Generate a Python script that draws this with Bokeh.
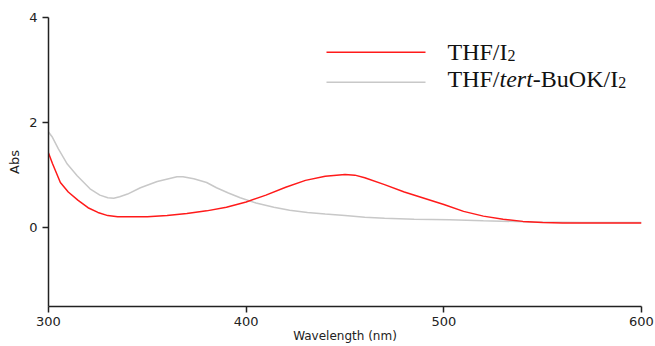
from bokeh.plotting import figure
from bokeh.models import Range1d, Label, BoxAnnotation, FixedTicker
from bokeh.embed import file_html
from bokeh.resources import INLINE

# Wavelength (nm) and absorbance for THF/I2 (red)
red_wl = [300, 302, 306, 310, 315, 320, 325, 330, 335, 340, 350, 360, 370, 380, 390,
          400, 410, 420, 430, 440, 450, 455, 460, 470, 480, 490, 500, 510, 520, 530,
          540, 550, 560, 580, 600]
red_abs = [1.42, 1.22, 0.86, 0.68, 0.52, 0.38, 0.29, 0.23, 0.21, 0.21, 0.21, 0.23, 0.27, 0.32, 0.39,
           0.49, 0.62, 0.77, 0.90, 0.98, 1.01, 1.00, 0.95, 0.82, 0.68, 0.56, 0.44, 0.31, 0.22, 0.16,
           0.12, 0.10, 0.09, 0.09, 0.09]

# Wavelength (nm) and absorbance for THF/tert-BuOK/I2 (grey)
grey_wl = [300, 302, 305, 309.5, 314.5, 321, 326, 330, 333, 336, 340, 346.5, 355, 365, 368,
           373.5, 380, 385, 391, 397, 405, 414, 422, 431, 440, 450, 460, 470, 485, 503,
           520, 545, 570, 600]
grey_abs = [1.82, 1.72, 1.50, 1.21, 0.99, 0.74, 0.62, 0.57, 0.56, 0.59, 0.64, 0.76, 0.88, 0.97, 0.97,
            0.93, 0.86, 0.76, 0.66, 0.57, 0.47, 0.39, 0.33, 0.29, 0.26, 0.23, 0.20, 0.18, 0.16, 0.15,
            0.13, 0.11, 0.10, 0.10]

x_ticks = [300, 400, 500, 600]
y_ticks = [0, 2, 4]

RED = "#ff1a1a"
GREY = "#c8c8c8"
AX = "#222222"

p = figure(width=655, height=346, output_backend="svg", toolbar_location=None,
           x_range=Range1d(300, 600), y_range=Range1d(-1.5, 4),
           min_border_left=48, min_border_right=14, min_border_top=17, min_border_bottom=40)
p.outline_line_color = None
p.grid.visible = False
p.background_fill_color = "white"
p.border_fill_color = "white"

p.line(grey_wl, grey_abs, line_color=GREY, line_width=1.5)
p.line(red_wl, red_abs, line_color=RED, line_width=1.5)

for ax, ticks in ((p.xaxis[0], x_ticks), (p.yaxis[0], y_ticks)):
    ax.ticker = FixedTicker(ticks=ticks)
    ax.minor_tick_line_color = None
    ax.major_tick_in = 0
    ax.major_tick_out = 6
    ax.axis_line_width = 1.5
    ax.major_tick_line_width = 1.5
    ax.axis_line_color = AX
    ax.major_tick_line_color = AX
    ax.major_label_text_font = "DejaVu Sans"
    ax.major_label_text_font_size = "13px"
    ax.major_label_text_color = AX
    ax.axis_label_text_font = "DejaVu Sans"
    ax.axis_label_text_font_style = "normal"
    ax.axis_label_text_color = AX

p.xaxis.axis_label = "Wavelength (nm)"
p.xaxis.major_label_standoff = 4
p.xaxis.axis_label_standoff = 0
p.xaxis.axis_label_text_font_size = "12px"

p.yaxis.axis_label = "Abs"
p.yaxis.major_label_standoff = 5
p.yaxis.axis_label_standoff = 4
p.yaxis.axis_label_text_font_size = "13px"

# Legend samples (frame-relative screen units)
for color, yc in ((RED, 306 - 51.7), (GREY, 306 - 81.7)):
    p.add_layout(BoxAnnotation(left=326 - 48, right=425 - 48, bottom=yc - 0.8, top=yc + 0.8,
                               left_units="screen", right_units="screen",
                               bottom_units="screen", top_units="screen",
                               fill_color=color, fill_alpha=1.0, line_color=None))

SERIF = "Liberation Serif"
FS = 24
def seg(x, y, txt, size=FS, style="normal"):
    p.add_layout(Label(x=x, y=y, x_units="screen", y_units="screen", text=txt,
                       text_font=SERIF, text_font_size=f"{size}px", text_font_style=style,
                       text_color="#111111", text_align="left", text_baseline="alphabetic"))

x0 = 447 - 48
y1 = 306 - 51
y2 = 306 - 78
w_THFI = 2.5 * FS
seg(x0, y1, "THF/I")
seg(x0 + w_THFI, y1 - 4, "2", size=16)
w_THF = 2.167 * FS
w_tert = 1.389 * FS
w_rest = 3.555 * FS
seg(x0, y2, "THF/")
seg(x0 + w_THF, y2, "tert", style="italic")
seg(x0 + w_THF + w_tert, y2, "-BuOK/I")
seg(x0 + w_THF + w_tert + w_rest, y2 - 4, "2", size=16)

open("out.html", "w").write(file_html(p, INLINE))
